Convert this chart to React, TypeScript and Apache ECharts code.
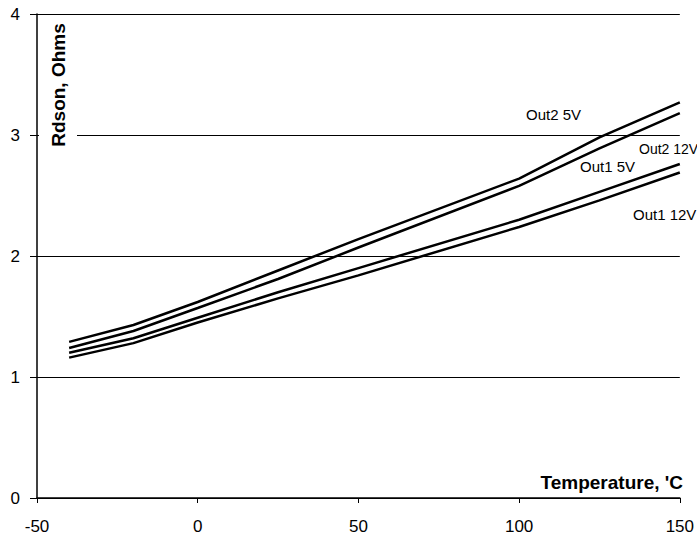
import React, { useEffect, useRef } from "react";
import * as echarts from "echarts";

const temps = [-40, -20, 0, 25, 50, 100, 125, 150];
const out2_5V = [1.29, 1.43, 1.62, 1.88, 2.14, 2.64, 2.98, 3.27];
const out2_12V = [1.24, 1.38, 1.57, 1.81, 2.07, 2.58, 2.89, 3.18];
const out1_5V = [1.20, 1.32, 1.49, 1.70, 1.90, 2.30, 2.53, 2.76];
const out1_12V = [1.16, 1.28, 1.45, 1.65, 1.84, 2.24, 2.46, 2.69];
const seriesNames = ["Out2 5V", "Out2 12V", "Out1 5V", "Out1 12V"];
const xTicks = [-50, 0, 50, 100, 150];
const yTicks = [0, 1, 2, 3, 4];

export default function App() {
  const ref = useRef<HTMLDivElement>(null);
  useEffect(() => {
    const chart = echarts.init(ref.current!, undefined, { renderer: "svg" });
    const all = [out2_5V, out2_12V, out1_5V, out1_12V];
    const font = "'Liberation Sans', Arial, sans-serif";
    chart.setOption({
      animation: false,
      backgroundColor: "#ffffff",
      grid: { left: 37, right: 15, top: 14, bottom: 42, containLabel: false },
      xAxis: {
        type: "value",
        min: xTicks[0],
        max: xTicks[xTicks.length - 1],
        interval: 50,
        axisLine: { show: true, onZero: false, lineStyle: { color: "#000", width: 1.5 } },
        axisTick: { show: true, length: 5, lineStyle: { color: "#000" } },
        splitLine: { show: false },
        axisLabel: { color: "#000", fontSize: 17, fontFamily: font, margin: 20 },
      },
      yAxis: {
        type: "value",
        min: yTicks[0],
        max: yTicks[yTicks.length - 1],
        interval: 1,
        axisLine: { show: true, onZero: false, lineStyle: { color: "#000", width: 1.5 } },
        axisTick: { show: true, length: 7, lineStyle: { color: "#000" } },
        splitLine: { show: true, lineStyle: { color: "#000", width: 1 } },
        axisLabel: { color: "#000", fontSize: 17, fontFamily: font, margin: 17 },
      },
      series: all.map((vals, i) => ({
        name: seriesNames[i],
        type: "line",
        data: temps.map((t, j) => [t, vals[j]]),
        showSymbol: false,
        smooth: false,
        lineStyle: { color: "#000", width: 2.5 },
        z: 5,
      })),
      graphic: [
        { type: "rect", shape: { x: 39, y: 18, width: 38, height: 134 }, style: { fill: "#fff" }, z: 10 },
        {
          type: "text", x: 58, y: 85, rotation: Math.PI / 2, z: 11,
          style: { text: "Rdson, Ohms", fill: "#000", font: `bold 19px ${font}`, textAlign: "center", textVerticalAlign: "middle" },
        },
        {
          type: "text", x: 683, y: 482, z: 11,
          style: { text: "Temperature, 'C", fill: "#000", font: `bold 19px ${font}`, textAlign: "right", textVerticalAlign: "middle" },
        },
        { type: "text", x: 526, y: 114, z: 11, style: { text: seriesNames[0], fill: "#000", font: `15px ${font}`, textVerticalAlign: "middle" } },
        { type: "text", x: 639, y: 149, z: 11, style: { text: seriesNames[1], fill: "#000", font: `14px ${font}`, textVerticalAlign: "middle" } },
        { type: "text", x: 580, y: 166, z: 11, style: { text: seriesNames[2], fill: "#000", font: `15px ${font}`, textVerticalAlign: "middle" } },
        { type: "text", x: 633, y: 214, z: 11, style: { text: seriesNames[3], fill: "#000", font: `15px ${font}`, textVerticalAlign: "middle" } },
      ],
    });
    return () => chart.dispose();
  }, []);
  return <div ref={ref} style={{ position: "fixed", left: 0, top: 0, width: 697, height: 540 }} />;
}
